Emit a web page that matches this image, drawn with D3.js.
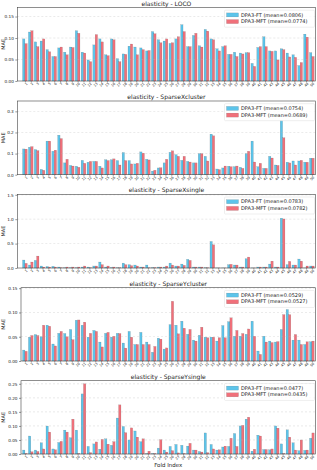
<!DOCTYPE html>
<html lang="en">
<head>
<meta charset="UTF-8">
<title>elasticity MAE per fold</title>
<script src="https://cdn.jsdelivr.net/npm/d3@7"></script>
<style>
  body { margin: 0; background: #fff; }
  svg { display: block; }
  text { font-family: "DejaVu Sans", sans-serif; fill: #222; }
</style>
</head>
<body>
<svg id="chart" width="317" height="470"></svg>
<script>
// data
const folds = d3.range(1, 51);
const seriesNames = ["DPA3-FT", "DPA3-MFT"];
const panelTitles = ["elasticity - LOCO", "elasticity - SparseXcluster", "elasticity - SparseXsingle",
                     "elasticity - SparseYcluster", "elasticity - SparseYsingle"];
const meanFT  = ["0.0806", "0.0754", "0.0783", "0.0529", "0.0477"];
const meanMFT = ["0.0774", "0.0689", "0.0782", "0.0527", "0.0435"];
const yTicks = [[0, 0.05, 0.10, 0.15], [0, 0.1, 0.2, 0.3], [0, 0.5, 1.0, 1.5],
                [0, 0.05, 0.10, 0.15], [0, 0.05, 0.10, 0.15, 0.20, 0.25]];
const yFormats = [".2f", ".1f", ".1f", ".2f", ".2f"];
const yMax = [0.171, 0.349, 1.51, 0.151, 0.261];

const locoFT  = [0.098,0.114,0.091,0.093,0.073,0.057,0.077,0.067,0.079,0.117,0.067,0.049,0.084,0.098,0.061,0.098,0.052,0.063,0.081,0.079,0.077,0.070,0.115,0.096,0.093,0.0875,0.098,0.131,0.080,0.106,0.082,0.120,0.098,0.075,0.080,0.062,0.067,0.065,0.066,0.041,0.078,0.103,0.070,0.070,0.075,0.065,0.061,0.036,0.109,0.066];
const locoMFT = [0.087,0.117,0.080,0.098,0.068,0.057,0.079,0.061,0.078,0.111,0.065,0.045,0.108,0.091,0.059,0.096,0.045,0.062,0.086,0.061,0.073,0.071,0.110,0.089,0.098,0.089,0.103,0.115,0.080,0.111,0.079,0.116,0.096,0.070,0.082,0.062,0.057,0.063,0.066,0.034,0.080,0.080,0.069,0.049,0.073,0.056,0.055,0.043,0.102,0.057];

const sxcFT  = [0.122,0.130,0.119,0.025,0.159,0.111,0.187,0.056,0.044,0.040,0.068,0.059,0.063,0.040,0.071,0.071,0.067,0.105,0.067,0.051,0.108,0.073,0.017,0.032,0.056,0.106,0.095,0.068,0.063,0.056,0.100,0.087,0.192,0.027,0.032,0.040,0.038,0.035,0.100,0.159,0.038,0.030,0.087,0.046,0.256,0.059,0.065,0.065,0.059,0.078];
const sxcMFT = [0.121,0.133,0.114,0.021,0.159,0.116,0.171,0.073,0.041,0.035,0.054,0.063,0.063,0.032,0.067,0.075,0.046,0.067,0.051,0.054,0.102,0.070,0.021,0.033,0.073,0.113,0.087,0.087,0.060,0.056,0.100,0.065,0.184,0.024,0.041,0.038,0.041,0.030,0.111,0.060,0.054,0.030,0.079,0.044,0.175,0.056,0.046,0.068,0.059,0.078];

const sxsFT  = [0.163,0.061,0.156,0.041,0.030,0.034,0.020,0.007,0.007,0.007,0.020,0.020,0.041,0.122,0.020,0.010,0.007,0.100,0.068,0.061,0.020,0.061,0.010,0.020,0.020,0.100,0.040,0.080,0.177,0.020,0.020,0.007,0.543,0.003,0.003,0.068,0.061,0.020,0.190,0.003,0.020,0.020,0.080,0.020,1.020,0.068,0.061,0.183,0.003,0.041];
const sxsMFT = [0.095,0.122,0.244,0.020,0.020,0.020,0.007,0.020,0.020,0.020,0.041,0.007,0.041,0.068,0.041,0.020,0.007,0.068,0.048,0.041,0.020,0.007,0.010,0.020,0.040,0.060,0.040,0.054,0.156,0.020,0.020,0.007,0.475,0.003,0.003,0.075,0.061,0.020,0.224,0.003,0.020,0.020,0.140,0.020,1.005,0.136,0.061,0.140,0.041,0.041];

const sycFT  = [0.0225,0.049,0.0545,0.050,0.0737,0.035,0.057,0.0566,0.065,0.084,0.0737,0.049,0.063,0.039,0.057,0.049,0.057,0.037,0.061,0.034,0.059,0.039,0.018,0.047,0.0245,0.075,0.0737,0.082,0.055,0.043,0.053,0.049,0.049,0.041,0.073,0.081,0.051,0.051,0.055,0.082,0.0205,0.051,0.041,0.039,0.065,0.106,0.043,0.043,0.034,0.0396];
const sycMFT = [0.020,0.0525,0.0525,0.0737,0.0716,0.031,0.061,0.050,0.044,0.0846,0.080,0.057,0.061,0.029,0.059,0.051,0.0566,0.0266,0.049,0.034,0.034,0.034,0.030,0.045,0.027,0.123,0.056,0.0675,0.065,0.041,0.0696,0.048,0.049,0.048,0.048,0.089,0.063,0.0566,0.066,0.051,0.0136,0.039,0.038,0.040,0.0955,0.0955,0.0546,0.034,0.0396,0.041];

const sysFT  = [0.014,0.064,0.014,0.040,0.0995,0.018,0.041,0.085,0.058,0.085,0.214,0.027,0.036,0.017,0.054,0.031,0.128,0.098,0.050,0.082,0.044,0.002,0.002,0.021,0.014,0.027,0.034,0.031,0.028,0.014,0.009,0.075,0.034,0.014,0.025,0.027,0.073,0.100,0.124,0.010,0.067,0.016,0.015,0.100,0.036,0.086,0.040,0.012,0.013,0.056];
const sysMFT = [0.002,0.008,0.009,0.018,0.078,0.015,0.045,0.078,0.124,0.002,0.250,0.005,0.043,0.052,0.035,0.044,0.175,0.076,0.093,0.060,0.054,0.010,0.002,0.051,0.007,0.012,0.004,0.002,0.038,0.014,0.007,0.005,0.018,0.015,0.028,0.056,0.027,0.102,0.131,0.017,0.064,0.016,0.018,0.092,0.002,0.060,0.014,0.050,0.014,0.075];

const ftSeries  = [locoFT, sxcFT, sxsFT, sycFT, sysFT];
const mftSeries = [locoMFT, sxcMFT, sxsMFT, sycMFT, sysMFT];

// layout
const colors = ["#5cc4ea", "#f0707a"];
const panelTop    = [7.5, 101, 194.3, 287.7, 380.7];
const panelBottom = [81, 174.7, 268, 361, 454];
const panelLeft   = [17.3, 17.3, 17.3, 21, 21];
const panelRight  = 315.5;

const svg = d3.select("#chart");

panelTitles.forEach((title, p) => {
  const top = panelTop[p], bottom = panelBottom[p], left = panelLeft[p];
  const g = svg.append("g");

  const x = d3.scaleLinear().domain([-0.3, 50.62]).range([17.3, panelRight]);
  const y = d3.scaleLinear().domain([0, yMax[p]]).range([bottom, top]);
  const step = x(2) - x(1);
  const bw = step * 0.4;

  const rows = folds.map((f, i) => ({ fold: f, vals: [ftSeries[p][i], mftSeries[p][i]] }));

  // bars
  seriesNames.forEach((name, s) => {
    g.append("g").selectAll("rect")
      .data(rows)
      .enter().append("rect")
      .attr("x", d => x(d.fold) - bw + s * bw)
      .attr("y", d => y(d.vals[s]))
      .attr("width", bw)
      .attr("height", d => bottom - y(d.vals[s]))
      .attr("fill", colors[s])
      .attr("stroke", "#1a1a1a")
      .attr("stroke-opacity", 0.35)
      .attr("stroke-width", 0.3);
  });

  // grid
  g.append("g").selectAll("line")
    .data(yTicks[p].slice(1))
    .enter().append("line")
    .attr("x1", left).attr("x2", panelRight)
    .attr("y1", d => y(d)).attr("y2", d => y(d))
    .attr("stroke", "#bbb").attr("stroke-width", 0.5)
    .attr("stroke-dasharray", "2,2").attr("opacity", 0.6);

  // y axis
  const yAxis = d3.axisLeft(y).tickValues(yTicks[p]).tickFormat(d3.format(yFormats[p]))
    .tickSize(2).tickPadding(1.5);
  const ya = g.append("g").attr("transform", `translate(${left},0)`).call(yAxis);
  ya.select(".domain").remove();
  ya.selectAll("line").attr("stroke", "#333").attr("stroke-width", 0.5);
  ya.selectAll("text").style("font-size", "4.2px").attr("fill", "#222");

  // x axis
  const xAxis = d3.axisBottom(x).tickValues(folds).tickFormat(d3.format("d")).tickSize(1.5).tickPadding(1);
  const xa = g.append("g").attr("transform", `translate(0,${bottom})`).call(xAxis);
  xa.select(".domain").remove();
  xa.selectAll("line").attr("stroke", "#333").attr("stroke-width", 0.4);
  xa.selectAll("text")
    .style("font-size", "3.4px")
    .attr("fill", "#222")
    .attr("text-anchor", "end")
    .attr("dy", "0.5em")
    .attr("transform", "rotate(-45)")
    .attr("x", -0.5).attr("y", 2);

  // frame
  g.append("rect")
    .attr("x", left).attr("y", top)
    .attr("width", panelRight - left).attr("height", bottom - top)
    .attr("fill", "none").attr("stroke", "#444").attr("stroke-width", 0.6);

  // title
  g.append("text")
    .attr("x", (left + panelRight) / 2).attr("y", top - 2)
    .attr("text-anchor", "middle")
    .style("font-size", "6px")
    .text(title);

  // y label
  g.append("text")
    .attr("transform", `translate(5,${(top + bottom) / 2}) rotate(-90)`)
    .attr("text-anchor", "middle")
    .style("font-size", "5px")
    .text("MAE");

  // legend
  const lg = g.append("g").attr("transform", `translate(${panelRight - 91},${top + 2.7})`);
  lg.append("rect").attr("width", 90).attr("height", 17)
    .attr("fill", "#fff").attr("fill-opacity", 0.8)
    .attr("stroke", "#ddd").attr("stroke-width", 0.5).attr("rx", 1);
  const labels = [`${seriesNames[0]} (mean=${meanFT[p]})`, `${seriesNames[1]} (mean=${meanMFT[p]})`];
  labels.forEach((lab, s) => {
    lg.append("rect").attr("x", 2).attr("y", 2.7 + s * 6.7).attr("width", 12).attr("height", 4)
      .attr("fill", colors[s]).attr("stroke", "#1a1a1a").attr("stroke-opacity", 0.35).attr("stroke-width", 0.3);
    lg.append("text").attr("x", 16.5).attr("y", 6.4 + s * 6.7)
      .style("font-size", "5px").text(lab);
  });
});

svg.append("text")
  .attr("x", (21 + panelRight) / 2).attr("y", 467)
  .attr("text-anchor", "middle")
  .style("font-size", "5.5px")
  .text("Fold Index");
</script>
</body>
</html>
